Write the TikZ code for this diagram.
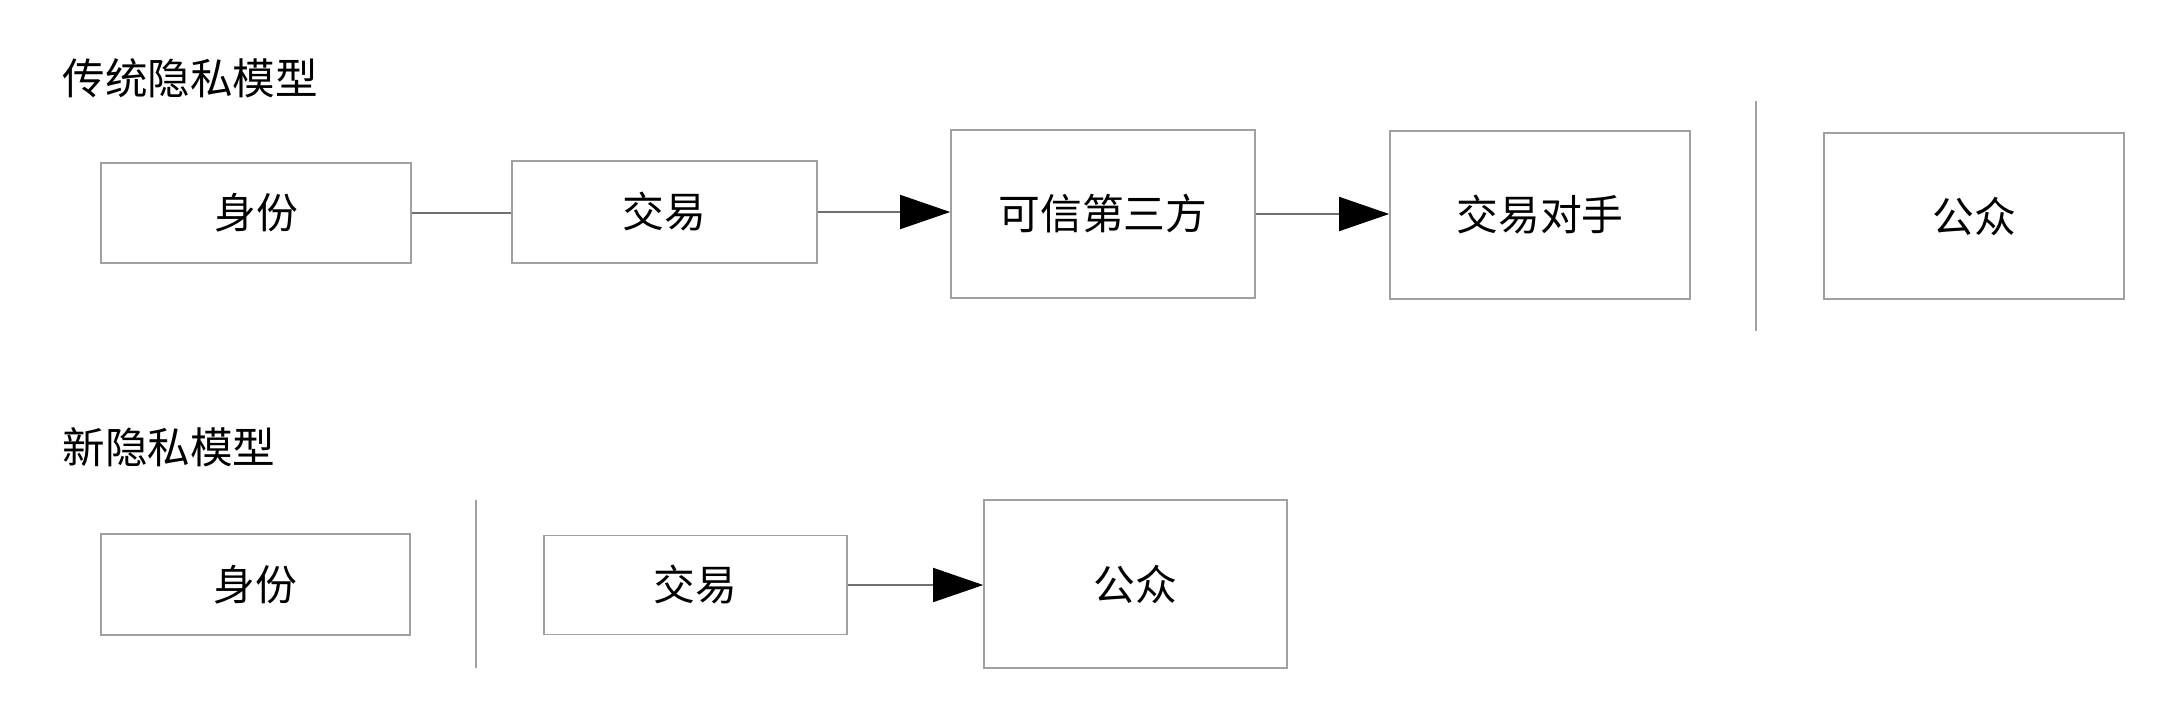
\documentclass[tikz,border=0pt]{standalone}
\usepackage{fontspec}
\setmainfont{Noto Sans CJK SC}
\usetikzlibrary{arrows.meta}
\definecolor{boxgray}{HTML}{A0A0A0}
\definecolor{linegray}{HTML}{707070}
\tikzset{
  box/.style={draw=boxgray, line width=0.8pt, fill=white, inner sep=0pt, font=\fontsize{20.9}{24}\selectfont},
  title/.style={anchor=west, inner sep=0pt, font=\fontsize{21.3}{25}\selectfont},
  conn/.style={draw=linegray, line width=0.8pt},
  arr/.style={conn, -{Triangle[length=25pt, width=17pt, color=black]}},
  sep/.style={draw=boxgray, line width=0.8pt}
}
\begin{document}
\begin{tikzpicture}[x=0.5pt, y=-0.5pt]
\useasboundingbox (0,0) rectangle (2170,725);
\fill[white] (0,0) rectangle (2170,725);
% titles
\node[title] (t1) at (62,78) {传统隐私模型};
\node[title] (t2) at (62,447) {新隐私模型};
% top row
\node[box, minimum width=155pt, minimum height=50pt] (id1) at (256,213) {身份};
\node[box, minimum width=152.5pt, minimum height=51pt] (tx1) at (664.5,212) {交易};
\node[box, minimum width=152pt, minimum height=84pt] (tp) at (1103,214) {可信第三方};
\node[box, minimum width=150pt, minimum height=84pt] (cp) at (1540,215) {交易对手};
\node[box, minimum width=150pt, minimum height=83pt] (pub1) at (1974,216) {公众};
\coordinate (v1a) at (1756,101);
\coordinate (v1b) at (1756,331);
\draw[sep] (v1a) -- (v1b);
\draw[conn] (id1.east) -- (id1.east -| tx1.west);
\draw[arr] (tx1.east) -- (tx1.east -| tp.west);
\draw[arr] (tp.east) -- (tp.east -| cp.west);
% bottom row
\node[box, minimum width=154.5pt, minimum height=50.5pt] (id2) at (255.5,584.5) {身份};
\coordinate (v2a) at (476,500);
\coordinate (v2b) at (476,668);
\draw[sep] (v2a) -- (v2b);
\node[box, minimum width=151.5pt, minimum height=49.5pt] (tx2) at (695.5,585) {交易};
\node[box, minimum width=151.5pt, minimum height=84pt] (pub2) at (1135.5,584) {公众};
\draw[arr] (tx2.east) -- (tx2.east -| pub2.west);
\end{tikzpicture}
\end{document}
